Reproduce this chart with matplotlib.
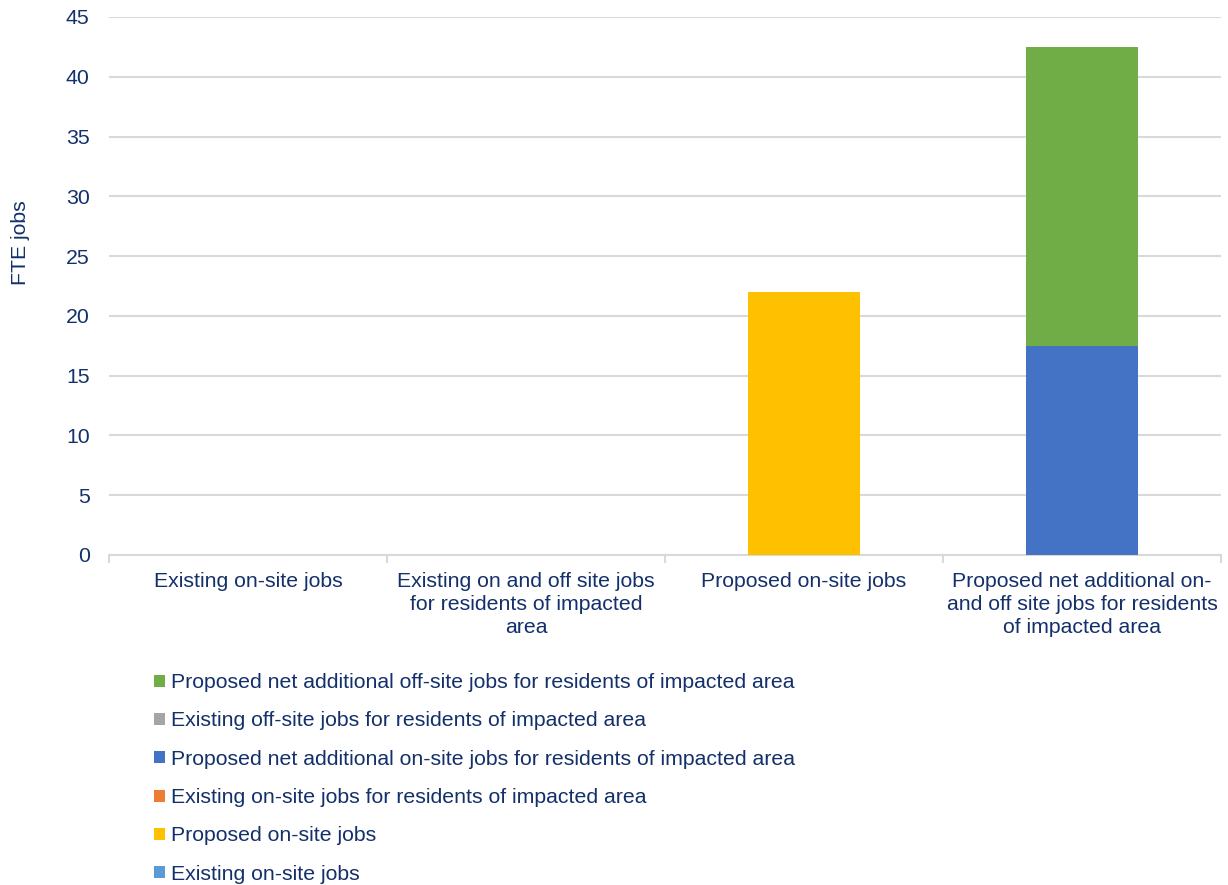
import matplotlib.pyplot as plt
import numpy as np

plt.rcParams['font.family'] = ['Liberation Sans', 'DejaVu Sans']

categories = ["Existing on-site jobs",
              "Existing on and off site jobs\nfor residents of impacted\narea",
              "Proposed on-site jobs",
              "Proposed net additional on-\nand off site jobs for residents\nof impacted area"]

# stacking order bottom -> top
series_names = ["Existing on-site jobs",
                "Proposed on-site jobs",
                "Existing on-site jobs for residents of impacted area",
                "Proposed net additional on-site jobs for residents of impacted area",
                "Existing off-site jobs for residents of impacted area",
                "Proposed net additional off-site jobs for residents of impacted area"]
series_values = [[0, 0, 0, 0],
                 [0, 0, 22, 0],
                 [0, 0, 0, 0],
                 [0, 0, 0, 17.5],
                 [0, 0, 0, 0],
                 [0, 0, 0, 42.5 - 17.5]]
series_colors = ['#5B9BD5', '#FFC000', '#ED7D31', '#4472C4', '#A5A5A5', '#70AD47']

navy = '#14306B'
fs = 15.3

fig = plt.figure(figsize=(12.28, 8.85), dpi=100)
ax = fig.add_axes([0.0888, 0.3729, 0.9055, 0.6079])

x = np.arange(len(categories))
bottom = np.zeros(len(categories))
handles = []
for name, vals, col in zip(series_names, series_values, series_colors):
    vals = np.array(vals, dtype=float)
    b = ax.bar(x, vals, bottom=bottom, width=0.4, color=col, label=name, zorder=3)
    handles.append(b)
    bottom += vals

ax.set_xlim(-0.5, len(categories) - 0.5)
ax.set_ylim(0, 45)
ax.set_yticks(np.arange(0, 46, 5))
ax.grid(axis='y', color='#D9D9D9', linewidth=1.5, zorder=0)
for s in ['top', 'right', 'left']:
    ax.spines[s].set_visible(False)
ax.spines['bottom'].set_color('#D9D9D9')
ax.spines['bottom'].set_linewidth(1.5)

ax.set_xticks(x)
ax.set_xticklabels(categories, color=navy, fontsize=fs, linespacing=1.28, va='top')
ax.tick_params(axis='x', which='major', length=0, pad=12)
ax.set_xticks(np.arange(-0.5, len(categories), 1), minor=True)
ax.tick_params(axis='x', which='minor', length=6, color='#D9D9D9', width=1.5)
ax.tick_params(axis='y', length=0, labelsize=fs, labelcolor=navy, pad=14)

ax.set_ylabel("FTE jobs", color=navy, fontsize=fs)
ax.yaxis.set_label_coords(-0.071, 0.58)

leg = fig.legend(handles[::-1], series_names[::-1], loc='upper left',
                 bbox_to_anchor=(0.1186, 0.249), frameon=False, fontsize=fs,
                 handlelength=0.5, handleheight=0.5, handletextpad=0.3,
                 labelspacing=0.91, borderaxespad=0)
for t in leg.get_texts():
    t.set_color(navy)

fig.savefig('out.png', dpi=100)
